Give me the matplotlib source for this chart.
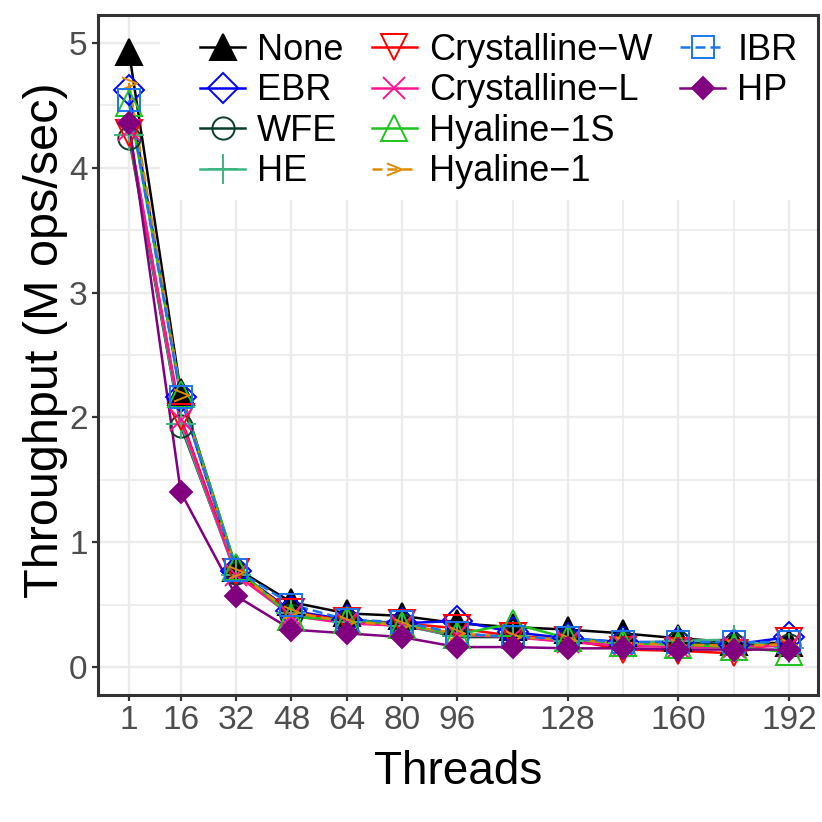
import numpy as np
import matplotlib.pyplot as plt
from matplotlib.lines import Line2D
from matplotlib.path import Path
from matplotlib.patches import Rectangle

plt.rcParams['font.family'] = ['Liberation Sans', 'DejaVu Sans']

threads = [1, 16, 32, 48, 64, 80, 96, 112, 128, 144, 160, 176, 192]
tick_threads = [1, 16, 32, 48, 64, 80, 96, 128, 160, 192]
minor_threads = [112, 144, 176]

names = ['None', 'EBR', 'WFE', 'HE', 'Crystalline\u2212W', 'Crystalline\u2212L',
         'Hyaline\u22121S', 'Hyaline\u22121', 'IBR', 'HP']

# throughput, M ops/sec
tp_none = [4.93, 2.20, 0.79, 0.52, 0.43, 0.41, 0.35, 0.32, 0.30, 0.27, 0.23, 0.20, 0.19]
tp_ebr = [4.62, 2.16, 0.77, 0.45, 0.38, 0.35, 0.37, 0.28, 0.23, 0.20, 0.20, 0.18, 0.24]
tp_wfe = [4.24, 1.93, 0.75, 0.42, 0.36, 0.34, 0.24, 0.24, 0.21, 0.19, 0.20, 0.18, 0.18]
tp_he = [4.26, 1.95, 0.74, 0.43, 0.36, 0.33, 0.25, 0.25, 0.21, 0.19, 0.21, 0.22, 0.15]
tp_cryst_w = [4.28, 2.00, 0.76, 0.44, 0.37, 0.35, 0.31, 0.25, 0.22, 0.14, 0.13, 0.11, 0.21]
tp_cryst_l = [4.30, 1.98, 0.74, 0.41, 0.35, 0.33, 0.26, 0.24, 0.20, 0.17, 0.16, 0.16, 0.17]
tp_hyal_1s = [4.52, 2.19, 0.80, 0.40, 0.38, 0.34, 0.26, 0.35, 0.23, 0.19, 0.18, 0.16, 0.12]
tp_hyal_1 = [4.68, 2.18, 0.76, 0.44, 0.36, 0.34, 0.27, 0.24, 0.22, 0.19, 0.18, 0.17, 0.18]
tp_ibr = [4.54, 2.16, 0.78, 0.50, 0.38, 0.36, 0.27, 0.24, 0.23, 0.20, 0.20, 0.20, 0.20]
tp_hp = [4.36, 1.40, 0.57, 0.30, 0.27, 0.24, 0.16, 0.16, 0.15, 0.15, 0.14, 0.14, 0.14]

series = [tp_none, tp_ebr, tp_wfe, tp_he, tp_cryst_w, tp_cryst_l,
          tp_hyal_1s, tp_hyal_1, tp_ibr, tp_hp]

chevron = Path([(-1, 0.8), (1, 0), (-1, -0.8)], [Path.MOVETO, Path.LINETO, Path.LINETO])

# color, linestyle, marker, markersize, filled
styles = [
    ('black', '-', '^', 19, True),
    ('#0000FF', '-', 'D', 15, False),
    ('#0B3D2A', '-', 'o', 16, False),
    ('#3DB57E', '-', '+', 22, False),
    ('#FF0000', '-', 'v', 19, False),
    ('#FF1493', '-', 'x', 16, False),
    ('#1DC41D', '-', '^', 19, False),
    ('#DD8A00', (0, (4, 2)), chevron, 11, False),
    ('#1A75F0', (0, (4, 2)), 's', 16, False),
    ('#800080', '-', 'D', 11, True),
]

fig = plt.figure(figsize=(8.22, 8.22), dpi=100)
ax = fig.add_axes([0.1192, 0.1545, 0.8759, 0.8273])

lw = 1.8
mew = 1.4
# lines first, then points on top (like the ggplot layers)
for vals, (col, ls, mk, ms, filled) in zip(series, styles):
    ax.plot(threads, vals, color=col, ls=ls, lw=lw, zorder=2)
handles = []
for vals, name, (col, ls, mk, ms, filled) in zip(series, names, styles):
    mfc = col if filled else 'none'
    ax.plot(threads, vals, ls='none', marker=mk, ms=ms, mfc=mfc, mec=col, mew=mew, zorder=3)
    handles.append(Line2D([], [], color=col, ls=ls, lw=lw, marker=mk, ms=ms,
                          mfc=mfc, mec=col, mew=mew, label=name))
labels = list(names)
for _ in range(2):
    handles.append(Line2D([], [], alpha=0))
    labels.append('')

ax.set_xlim(-7.97, 200.4)
ax.set_ylim(-0.224, 5.224)
ax.set_xticks(tick_threads)
ax.set_xticks(minor_threads, minor=True)
ax.set_yticks([0, 1, 2, 3, 4, 5])
ax.set_yticks(np.arange(0.5, 5.0, 1.0), minor=True)

ax.grid(True, which='major', color='#EBEBEB', lw=1.7, zorder=0)
ax.grid(True, which='minor', color='#EBEBEB', lw=1.2, zorder=0)
ax.set_axisbelow(True)

for sp in ax.spines.values():
    sp.set_color('#333333')
    sp.set_linewidth(2.2)
ax.tick_params(which='major', length=4.5, width=1.6, color='#333333',
               labelsize=24, labelcolor='#4D4D4D', pad=3)
ax.tick_params(which='minor', length=0)

ax.set_xlabel('Threads', fontsize=33, labelpad=10)
ax.set_ylabel('Throughput (M ops/sec)', fontsize=35, labelpad=1)
ax.yaxis.label.set_y(0.522)

# white legend background, as in the ggplot legend box
ax.add_patch(Rectangle((0.0861, 0.728), 0.9139, 0.272, transform=ax.transAxes,
                       facecolor='white', edgecolor='none', zorder=1))

leg = ax.legend(handles, labels, ncol=3, loc='upper left', bbox_to_anchor=(0.1417, 0.9735),
                fontsize=26, frameon=False, borderaxespad=0, borderpad=0,
                handlelength=1.25, handletextpad=0.33, columnspacing=0.78,
                labelspacing=0.15)
leg.set_zorder(5)

fig.savefig('out.png', dpi=100)
